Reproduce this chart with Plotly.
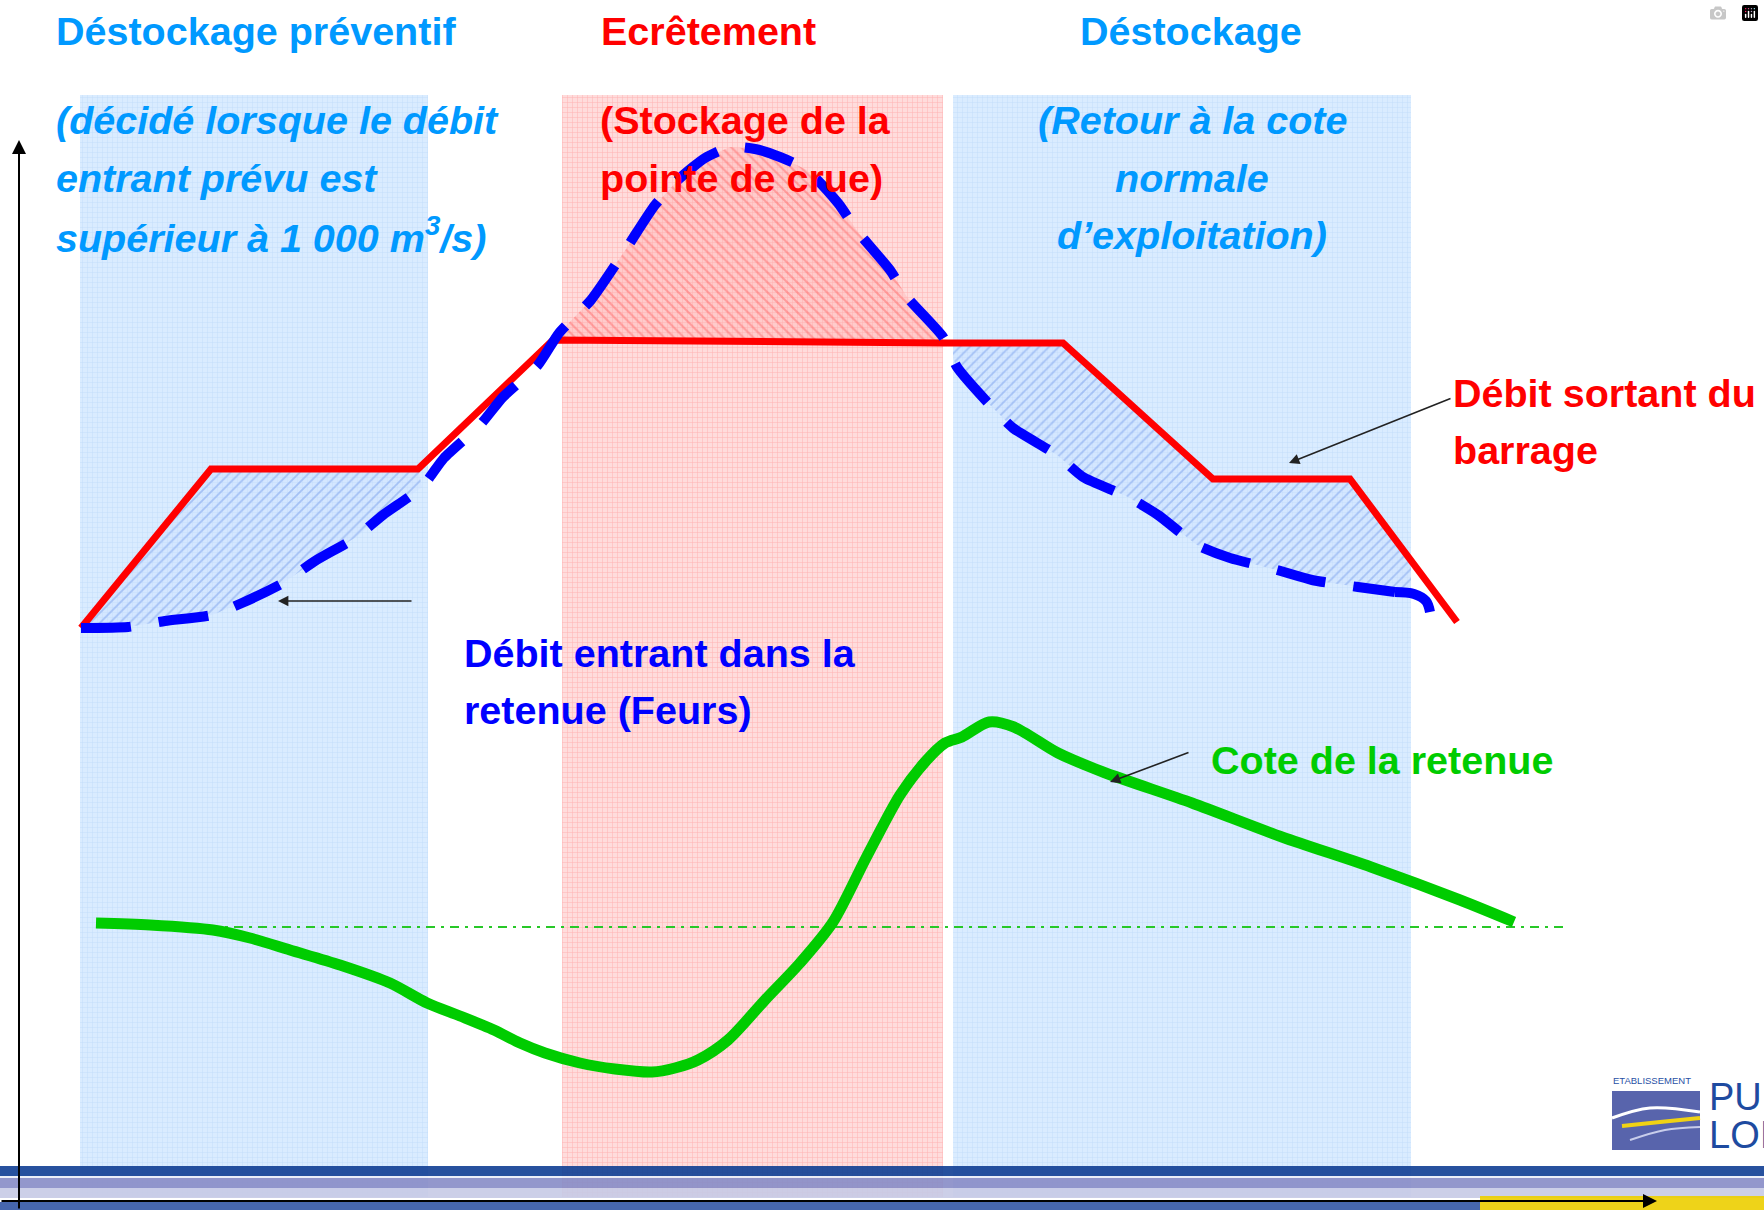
import numpy as np
import plotly.graph_objects as go

# ---------------- data (schematic, in picture units) ----------------
# operating phases: x extent of the shaded periods
phase_start = [80, 562, 953]
phase_end = [428, 943, 1411]
phase_kind = ["blue", "red", "blue"]
phase_top, phase_bottom = 95, 1197

# Débit sortant du barrage (red line)
out_x = [81, 211, 418, 553, 943, 1063, 1213, 1350, 1457]
out_y = [628, 469, 469, 340, 343, 343, 479, 479, 622]

# Débit entrant dans la retenue (blue dashed line)
in_x = [81, 128, 165, 212, 242, 283, 315, 355, 383, 422, 444, 480, 503, 538, 559, 591,
        626, 655, 680, 705, 730, 755, 780, 807, 838, 858, 890, 907, 943, 957, 990, 1013,
        1057, 1083, 1128, 1158, 1197, 1230, 1277, 1312, 1358, 1395, 1414, 1426, 1430]
in_y = [628, 627, 621, 615, 603, 583, 561, 538, 515, 487, 458, 425, 397, 365, 333, 300,
        249, 205, 178, 158, 147, 149, 157, 170, 203, 232, 270, 297, 337, 367, 405, 428,
        455, 477, 497, 515, 545, 558, 570, 580, 587, 592, 594, 601, 612]

# Cote de la retenue (green line)
lvl_x = [96, 150, 213, 250, 290, 340, 390, 427, 460, 494, 520, 545, 580, 615, 652, 675,
         698, 728, 765, 800, 833, 866, 900, 925, 945, 962, 989, 1014, 1058, 1103, 1192,
         1282, 1371, 1460, 1514]
lvl_y = [923, 925, 930, 938, 950, 965, 983, 1003, 1016, 1030, 1043, 1053, 1063, 1069, 1072, 1068,
         1060, 1040, 1000, 963, 922, 858, 795, 762, 743, 737, 722, 727, 753, 772, 803,
         837, 867, 900, 922]

# cote normale d'exploitation (dash-dot line)
normal_x = [210, 1564]
normal_y = [927, 927]

W, H = 1764, 1210
FONT = "Liberation Sans, Arial, sans-serif"
FS = 39.5
BLUE_T = "#0099FF"
RED = "#FF0000"
BLUE = "#0000FF"
GREEN = "#00CC00"

fig = go.Figure()

# ---------------- phase bands ----------------
for x0, x1, kind in zip(phase_start, phase_end, phase_kind):
    if kind == "blue":
        fc = "rgba(212,233,255,0.85)"
        fp = dict(shape="+", fgcolor="rgb(175,208,245)", size=5, solidity=0.2, fillmode="overlay")
    else:
        fc = "rgba(255,214,214,0.85)"
        fp = dict(shape="+", fgcolor="rgb(255,140,140)", size=5, solidity=0.2, fillmode="overlay")
    fig.add_trace(go.Scatter(x=[x0, x1, x1, x0, x0],
                             y=[phase_top, phase_top, phase_bottom, phase_bottom, phase_top],
                             mode="lines", fill="toself", fillcolor=fc, fillpattern=fp,
                             line=dict(width=0), hoverinfo="skip", showlegend=False))

# ---------------- bottom decoration stripes (seen through the bands) ----------------
stripes = [(0, W, 1166, 1176, "rgb(16,62,148)"),
           (0, W, 1176, 1178, "rgb(235,238,248)"),
           (0, W, 1178, 1188, "rgb(135,140,198)"),
           (0, W, 1188, 1198, "rgb(198,202,230)"),
           (0, 1480, 1202, 1210, "rgb(50,85,165)"),
           (1480, W, 1196, 1210, "rgb(236,206,0)")]
for x0, x1, y0, y1, c in stripes:
    fig.add_shape(type="rect", x0=x0, x1=x1, y0=y0, y1=y1, fillcolor=c,
                  line_width=0, layer="above", opacity=0.9)

in_xa = np.array(in_x, float)
in_ya = np.array(in_y, float)

# hatched area: left (déstockage préventif)
rx = [x for x in out_x if x <= 418]
ry = [y for x, y in zip(out_x, out_y) if x <= 418]
bx = [x for x in in_x if x <= 422][::-1]
by = [y for x, y in zip(in_x, in_y) if x <= 422][::-1]
fig.add_trace(go.Scatter(x=rx + bx, y=ry + by, mode="lines", fill="toself",
                         fillcolor="rgba(200,220,255,0.35)",
                         fillpattern=dict(shape="/", fgcolor="rgb(120,158,235)", size=7, solidity=0.25),
                         line=dict(width=0), hoverinfo="skip", showlegend=False))

# hatched area: écrêtement (above red plateau)
tx = [553] + [x for x in in_x if 559 <= x <= 943] + [943]
ty = [340] + [y for x, y in zip(in_x, in_y) if 559 <= x <= 943] + [343]
fig.add_trace(go.Scatter(x=tx, y=ty, mode="lines", fill="toself",
                         fillcolor="rgba(255,170,170,0.35)",
                         fillpattern=dict(shape="\\", fgcolor="rgb(255,105,105)", size=7, solidity=0.28),
                         line=dict(width=0), hoverinfo="skip", showlegend=False))

# hatched area: déstockage (right)
xa, xb = phase_start[2], phase_end[2]
rxs = [xa] + [x for x in out_x if xa < x < xb] + [xb]
rys = list(np.interp(rxs, out_x, out_y))
bxs = [xa] + [x for x in in_x if xa < x < xb] + [xb]
bys = list(np.interp(bxs, in_xa, in_ya))
fig.add_trace(go.Scatter(x=rxs + bxs[::-1], y=rys + bys[::-1], mode="lines", fill="toself",
                         fillcolor="rgba(200,220,255,0.35)",
                         fillpattern=dict(shape="/", fgcolor="rgb(120,158,235)", size=7, solidity=0.25),
                         line=dict(width=0), hoverinfo="skip", showlegend=False))

# ---------------- curves ----------------
fig.add_trace(go.Scatter(x=normal_x, y=normal_y, mode="lines",
                         line=dict(color="rgb(40,200,40)", width=2, dash="9px,6px,3px,6px"),
                         hoverinfo="skip", showlegend=False))
fig.add_trace(go.Scatter(x=lvl_x, y=lvl_y, mode="lines",
                         line=dict(color=GREEN, width=11, shape="spline", smoothing=0.8),
                         hoverinfo="skip", showlegend=False))
fig.add_trace(go.Scatter(x=out_x, y=out_y, mode="lines",
                         line=dict(color=RED, width=7),
                         hoverinfo="skip", showlegend=False))
fig.add_trace(go.Scatter(x=in_x[:-3], y=in_y[:-3], mode="lines",
                         line=dict(color=BLUE, width=10, dash="50px,28px", shape="spline", smoothing=0.6),
                         hoverinfo="skip", showlegend=False))
# solid hook at the end of the inflow curve
fig.add_trace(go.Scatter(x=in_x[-4:], y=in_y[-4:], mode="lines",
                         line=dict(color=BLUE, width=10, shape="spline", smoothing=1),
                         hoverinfo="skip", showlegend=False))

# logo (partial, cut at right edge)
fig.add_shape(type="rect", x0=1612, x1=1700, y0=1091, y1=1150, fillcolor="rgb(88,100,172)",
              line_width=0, layer="below")
fig.add_trace(go.Scatter(x=[1612, 1650, 1700], y=[1118, 1108, 1112], mode="lines",
                         line=dict(color="white", width=3, shape="spline"), hoverinfo="skip", showlegend=False))
fig.add_trace(go.Scatter(x=[1622, 1660, 1700], y=[1126, 1122, 1118], mode="lines",
                         line=dict(color="rgb(240,210,20)", width=4, shape="spline"), hoverinfo="skip", showlegend=False))
fig.add_trace(go.Scatter(x=[1630, 1665, 1700], y=[1140, 1130, 1127], mode="lines",
                         line=dict(color="rgb(200,205,235)", width=2, shape="spline"), hoverinfo="skip", showlegend=False))

# ---------------- text ----------------
def txt(s, x, y, color, size=FS, anchor="left", italic=False):
    t = "<b>" + ("<i>" + s + "</i>" if italic else s) + "</b>"
    fig.add_annotation(x=x, y=y, text=t, showarrow=False, xanchor=anchor, yanchor="middle",
                       font=dict(family=FONT, size=size, color=color))

txt("Déstockage préventif", 54, 31, BLUE_T)
txt("(décidé lorsque le débit", 54, 120, BLUE_T, italic=True)
txt("entrant prévu est", 54, 178, BLUE_T, italic=True)
txt("supérieur à 1 000 m<sup>3</sup>/s)", 54, 235, BLUE_T, italic=True)

txt("Ecrêtement", 599, 31, RED)
txt("(Stockage de la", 598, 120, RED)
txt("pointe de crue)", 598, 178, RED)

txt("Déstockage", 1191, 31, BLUE_T, anchor="center")
txt("(Retour à la cote", 1192, 120, BLUE_T, anchor="center", italic=True)
txt("normale", 1192, 178, BLUE_T, anchor="center", italic=True)
txt("d’exploitation)", 1192, 235, BLUE_T, anchor="center", italic=True)

txt("Débit entrant dans la", 462, 653, BLUE)
txt("retenue (Feurs)", 462, 710, BLUE)

txt("Débit sortant du", 1451, 393, RED)
txt("barrage", 1451, 450, RED)

txt("Cote de la retenue", 1209, 760, GREEN)

fig.add_annotation(x=1611, y=1080, text="ETABLISSEMENT", showarrow=False, xanchor="left",
                   yanchor="middle", font=dict(family=FONT, size=9.5, color="rgb(40,80,165)"))
fig.add_annotation(x=1707, y=1097, text="PUB", showarrow=False, xanchor="left",
                   yanchor="middle", font=dict(family=FONT, size=38, color="rgb(30,75,160)"))
fig.add_annotation(x=1707, y=1135, text="LOI", showarrow=False, xanchor="left",
                   yanchor="middle", font=dict(family=FONT, size=38, color="rgb(30,75,160)"))

# ---------------- arrows ----------------
def arrow(x, y, ax, ay, color="#222222", width=1.6, head=2, size=1.3):
    fig.add_annotation(x=x, y=y, ax=ax, ay=ay, xref="x", yref="y", axref="x", ayref="y",
                       text="", showarrow=True, arrowhead=head, arrowsize=size,
                       arrowwidth=width, arrowcolor=color)

arrow(19, 140, 19, 1210, color="black", width=2, size=1.4)        # vertical axis
arrow(1657, 1201, 0, 1201, color="black", width=2, size=1.4)      # horizontal axis
arrow(278, 601, 413, 601)
arrow(1289, 463, 1452, 398)
arrow(1110, 782, 1190, 752)

fig.update_layout(width=W, height=H, margin=dict(l=0, r=0, t=0, b=0),
                  paper_bgcolor="white", plot_bgcolor="white", showlegend=False,
                  xaxis=dict(range=[0, W], visible=False, fixedrange=True),
                  yaxis=dict(range=[H, 0], visible=False, fixedrange=True))

fig.write_html("out.html", post_script="document.body.style.margin='0';")
